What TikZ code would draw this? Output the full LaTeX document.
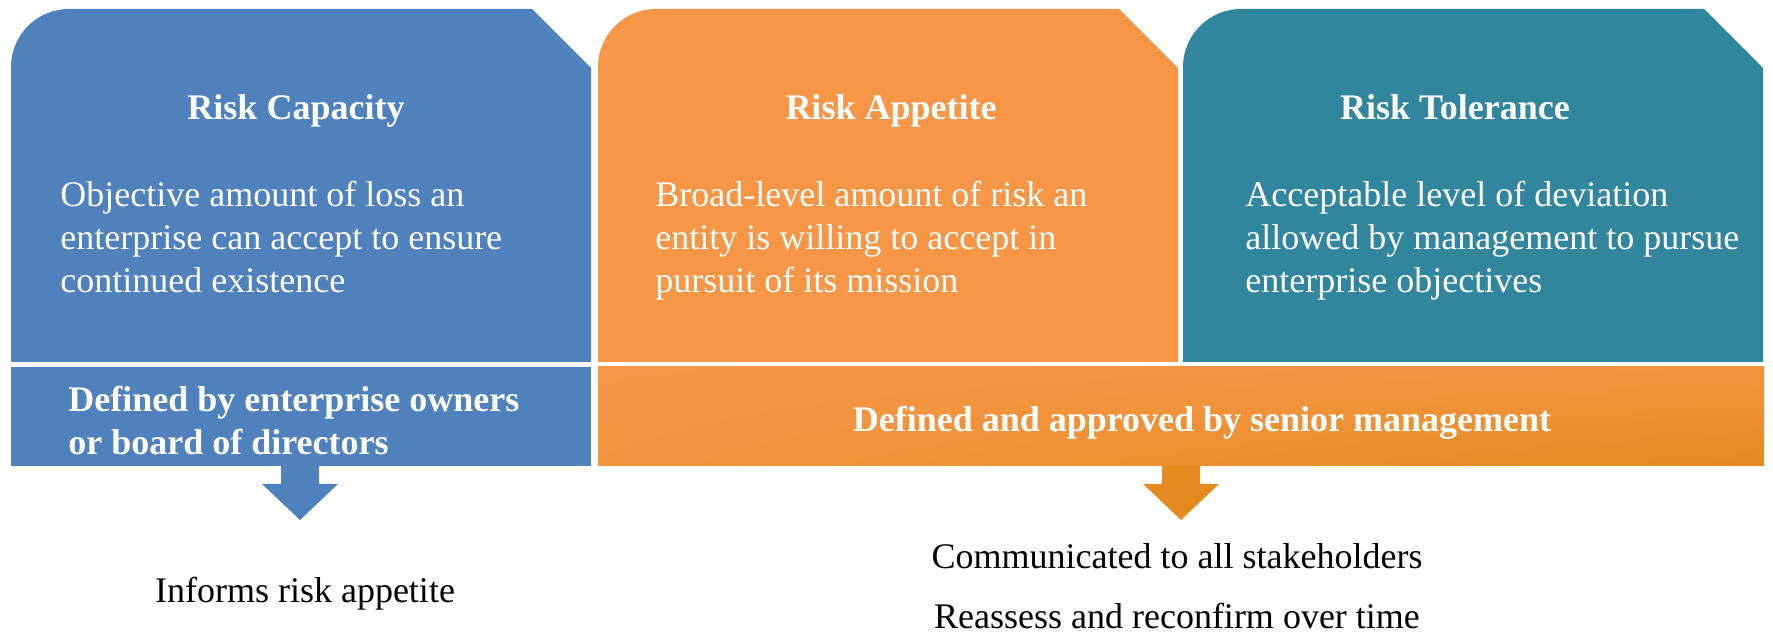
\documentclass[tikz,border=0pt]{standalone}
\usepackage{fontspec}
\setmainfont{Liberation Serif}
\usetikzlibrary{shadings}

\definecolor{capblue}{HTML}{4F81BD}
\definecolor{appetorange}{HTML}{F79646}
\definecolor{tolteal}{HTML}{31859C}
\definecolor{deeporange}{HTML}{E38B1F}

\tikzset{
    boxtitle/.style={text=white, font=\bfseries\fontsize{18}{21.5}\selectfont, anchor=base, inner sep=0pt},
    boxtext/.style={text=white, font=\fontsize{18}{21.5}\selectfont, align=left, anchor=base west, inner sep=0pt},
    bartext/.style={text=white, font=\bfseries\fontsize{18}{21.5}\selectfont, align=left, anchor=base west, inner sep=0pt},
    note/.style={text=black, font=\fontsize{18}{21.5}\selectfont, anchor=base, inner sep=0pt}
}

\begin{document}
\begin{tikzpicture}[x=0.5pt,y=-0.5pt]
    \useasboundingbox (0,0) rectangle (1773,635);

    \foreach \x/\col in {11/capblue, 598/appetorange, 1183/tolteal} {
        \fill[\col] (\x,362) -- (\x,67) arc[start angle=180, end angle=270, radius=58]
            -- (\x+521,9) -- (\x+580,68) -- (\x+580,362) -- cycle;
    }

    \fill[capblue] (11,367) rectangle (591,466);
    \shade[upper left=appetorange, upper right=appetorange!80!deeporange,
        lower left=appetorange!85!deeporange, lower right=deeporange] (598,367) rectangle (1764,466);

    \foreach \x/\col in {300/capblue, 1181/deeporange} {
        \fill[\col] (\x-19,466) -- (\x-19,484) -- (\x-38,484) -- (\x,520)
            -- (\x+38,484) -- (\x+19,484) -- (\x+19,466) -- cycle;
    }

    \node[boxtitle] (capTitle) at (296,120) {Risk Capacity};
    \node[boxtitle] (appTitle) at (891,120) {Risk Appetite};
    \node[boxtitle] (tolTitle) at (1455,120) {Risk Tolerance};

    \node[boxtext] (capText) at (60,293) {Objective amount of loss an\\enterprise can accept to ensure\\continued existence};
    \node[boxtext] (appText) at (655,293) {Broad-level amount of risk an\\entity is willing to accept in\\pursuit of its mission};
    \node[boxtext] (tolText) at (1245,293) {Acceptable level of deviation\\allowed by management to pursue\\enterprise objectives};

    \node[bartext] (capBar) at (68,455) {Defined by enterprise owners\\or board of directors};
    \node[boxtitle] (appBar) at (1202,432) {Defined and approved by senior management};

    \node[note] (capNote) at (305,603) {Informs risk appetite};
    \node[note] (appNote) at (1177,569) {Communicated to all stakeholders};
    \node[note] (appNoteB) at (1177,629) {Reassess and reconfirm over time};

\end{tikzpicture}
\end{document}
